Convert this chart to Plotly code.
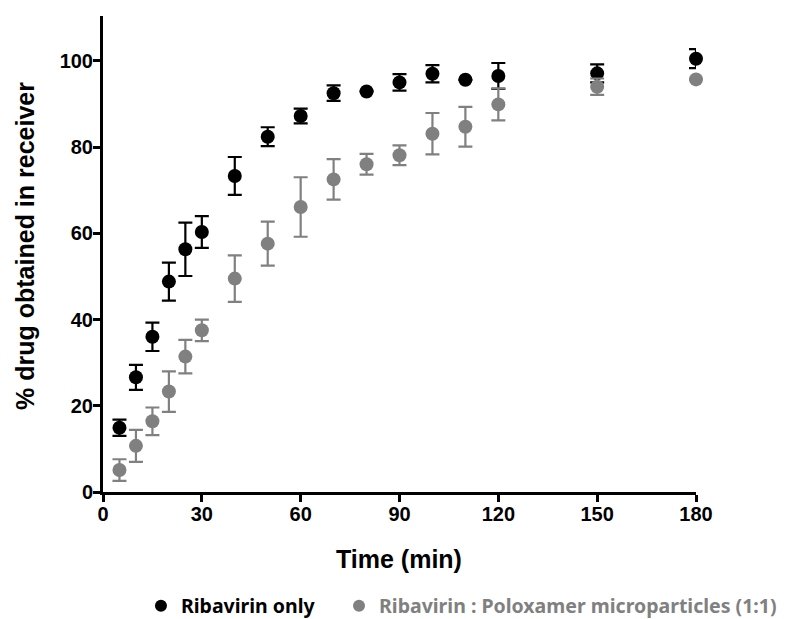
import plotly.graph_objects as go

time_min = [5, 10, 15, 20, 25, 30, 40, 50, 60, 70, 80, 90, 100, 110, 120, 150, 180]

riba_only = [14.9, 26.6, 36.0, 48.8, 56.3, 60.3, 73.3, 82.4, 87.2, 92.5, 92.9, 95.0, 97.0, 95.6, 96.5, 97.1, 100.5]
riba_only_err = [1.9, 2.9, 3.3, 4.4, 6.2, 3.7, 4.4, 2.2, 1.7, 1.8, 0.0, 1.9, 2.0, 0.0, 3.0, 2.1, 2.2]

riba_polox = [5.1, 10.7, 16.4, 23.3, 31.4, 37.5, 49.5, 57.6, 66.1, 72.5, 76.0, 78.1, 83.1, 84.7, 89.9, 94.0, 95.7]
riba_polox_err = [2.5, 3.7, 3.2, 4.7, 3.9, 2.5, 5.4, 5.1, 6.9, 4.7, 2.4, 2.3, 4.8, 4.6, 3.7, 1.9, 0.0]

x_ticks = [0, 30, 60, 90, 120, 150, 180]
y_ticks = [0, 20, 40, 60, 80, 100]

series_names = ["Ribavirin only", "Ribavirin : Poloxamer microparticles (1:1)"]
x_title = "Time (min)"
y_title = "% drug obtained in receiver"

BLACK = "#000000"
GREY = "#808080"
FONT = "Liberation Sans, Arial, sans-serif"
LEG_FONT = "Noto Sans, sans-serif"

fig = go.Figure()
fig.add_trace(go.Scatter(
    x=time_min, y=riba_only, mode="markers", name=series_names[0], legend="legend",
    marker=dict(color=BLACK, size=14), cliponaxis=False,
    error_y=dict(type="data", array=riba_only_err, color=BLACK, thickness=2.2, width=7),
))
fig.add_trace(go.Scatter(
    x=time_min, y=riba_polox, mode="markers", name=series_names[1], legend="legend2",
    marker=dict(color=GREY, size=14), cliponaxis=False,
    error_y=dict(type="data", array=riba_polox_err, color=GREY, thickness=2.2, width=7),
))

axis_font = dict(family=FONT, size=20, color="#000", weight="bold")

fig.update_layout(
    width=777, height=611,
    margin=dict(l=95, r=89, t=8, b=127, autoexpand=False),
    paper_bgcolor="white", plot_bgcolor="white",
    showlegend=True,
    legend=dict(
        orientation="h", x=0.064, xanchor="left", y=-0.2395, yanchor="middle",
        font=dict(family=LEG_FONT, size=19.5, weight="bold", color=BLACK),
        itemsizing="constant",
    ),
    legend2=dict(
        orientation="h", x=0.398, xanchor="left", y=-0.2395, yanchor="middle",
        font=dict(family=LEG_FONT, size=19.5, weight="bold", color=GREY),
        itemsizing="constant",
    ),
    xaxis=dict(
        range=[0, 180], tickvals=x_ticks,
        showline=True, linecolor="#000", linewidth=3, mirror=False,
        ticks="outside", ticklen=7, tickwidth=3, tickcolor="#000",
        showgrid=False, zeroline=False, tickfont=axis_font, automargin=False,
        ticklabelstandoff=-5,
    ),
    yaxis=dict(
        range=[0, 110.4], tickvals=y_ticks,
        showline=True, linecolor="#000", linewidth=3,
        ticks="outside", ticklen=7, tickwidth=3, tickcolor="#000",
        showgrid=False, zeroline=False, tickfont=axis_font, automargin=False,
        ticklabelstandoff=-4,
    ),
    annotations=[
        dict(text=x_title, xref="paper", yref="paper", x=0.499, y=-0.141,
             xanchor="center", yanchor="middle", showarrow=False,
             font=dict(family=FONT, size=25, color="#000", weight="bold")),
        dict(text=y_title, xref="paper", yref="paper", x=-0.1315, y=0.517,
             xanchor="center", yanchor="middle", showarrow=False, textangle=-90,
             font=dict(family=FONT, size=25, color="#000", weight="bold")),
    ],
)

fig.write_html("out.html")
